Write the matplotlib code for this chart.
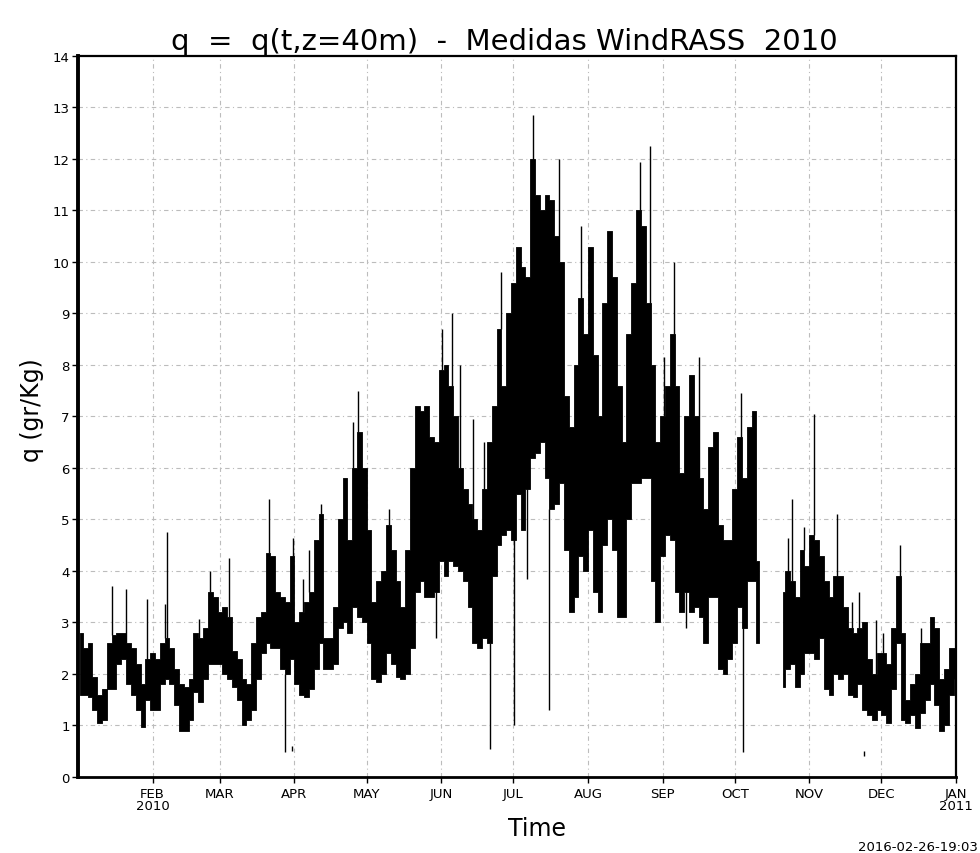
import numpy as np
import matplotlib
matplotlib.use('Agg')
import matplotlib.pyplot as plt

# q a 40m, envolvente leida cada 2 dias (minimo / maximo del bloque)
bin_day = np.arange(0, 366, 2)

q_low = [1.6, 1.6, 1.55, 1.3, 1.05, 1.1, 1.7, 1.7, 2.2, 2.3, 1.8, 1.6, 1.3, 0.97, 1.5, 1.3,
         1.3, 1.8, 1.9, 1.8, 1.4, 0.9, 0.9, 1.1, 1.65, 1.45, 1.9, 2.2, 2.2, 2.2, 2.0, 1.9,
         1.75, 1.5, 1.0, 1.1, 1.3, 1.9, 2.4, 2.6, 2.5, 2.5, 2.1, 2.0, 2.3, 1.8,
         1.6, 1.55, 1.7, 2.1, 2.6, 2.1, 2.1, 2.2, 2.9, 3.0, 2.8, 3.3, 3.1, 3.0, 2.6, 1.9,
         1.85, 2.0, 2.4, 2.2, 1.95, 1.9, 2.0, 2.5, 3.6, 3.8, 3.5, 3.5, 3.6, 4.2, 3.9, 4.2,
         4.1, 4.0, 3.8, 3.3, 2.6, 2.5, 2.7, 2.6, 3.9, 4.5, 4.7, 4.8,
         4.6, 5.5, 4.8, 5.6, 6.2, 6.3, 6.5, 5.8, 5.2, 5.3, 5.7, 4.4, 3.2, 3.5, 4.3, 4.0,
         4.8, 3.6, 3.2, 4.5, 5.0, 4.4, 3.1, 3.1, 5.0, 5.7, 5.7, 5.8, 5.8, 3.8, 3.0, 4.3,
         4.7, 4.6, 3.6, 3.2, 3.6, 3.2, 3.3, 3.1, 2.6, 3.5, 3.5, 2.1, 2.0, 2.3,
         2.6, 3.3, 2.9, 3.8, 3.8, 2.6, np.nan, np.nan, np.nan, np.nan, 1.75, 2.1, 2.2, 1.75,
         2.0, 2.4, 2.4, 2.3, 2.7, 1.7, 1.6, 2.0, 1.9, 2.0, 1.6, 1.55, 1.8, 1.3, 1.2, 1.1,
         1.3, 1.2, 1.05, 1.7, 2.6, 1.1, 1.05, 1.2, 0.95, 1.25, 1.5, 1.8, 1.4, 0.9, 1.0, 1.6,
         1.9]

q_high = [2.8, 2.5, 2.6, 1.95, 1.6, 1.7, 2.6, 2.75, 2.8, 2.8, 2.6, 2.5, 2.2, 1.8, 2.3, 2.4,
          2.3, 2.6, 2.7, 2.5, 2.1, 1.8, 1.75, 1.9, 2.8, 2.7, 2.9, 3.6, 3.5, 3.2, 3.3, 3.1,
          2.45, 2.3, 1.9, 1.8, 2.6, 3.1, 3.2, 4.35, 4.3, 3.6, 3.5, 3.4, 4.3, 3.0,
          3.2, 3.4, 3.6, 4.6, 5.1, 2.7, 2.7, 3.3, 5.0, 5.8, 4.6, 6.0, 6.7, 6.0, 4.8, 3.4,
          3.8, 4.0, 4.9, 4.4, 3.8, 3.3, 4.4, 6.0, 7.2, 7.1, 7.2, 6.6, 6.5, 7.9, 8.0, 7.6,
          7.0, 6.0, 5.6, 5.3, 5.0, 4.8, 5.6, 6.5, 7.2, 8.7, 7.6, 9.0,
          9.6, 10.3, 9.9, 9.7, 12.0, 11.3, 11.0, 11.3, 11.2, 10.5, 10.0, 7.4, 6.8, 8.0, 9.3, 8.6,
          10.3, 8.2, 7.0, 9.2, 10.6, 9.7, 7.6, 6.5, 8.6, 9.6, 11.0, 10.7, 9.2, 8.0, 6.5, 7.0,
          7.6, 8.6, 7.6, 5.9, 7.0, 7.8, 7.0, 5.8, 5.2, 6.4, 6.7, 4.9, 4.6, 4.6,
          5.6, 6.6, 5.8, 6.8, 7.1, 4.2, np.nan, np.nan, np.nan, np.nan, 3.6, 4.0, 3.8, 3.5,
          4.4, 4.1, 4.7, 4.6, 4.3, 3.8, 3.5, 3.9, 3.9, 3.3, 2.9, 2.8, 2.9, 3.0, 2.3, 2.0,
          2.4, 2.4, 2.2, 2.9, 3.9, 2.8, 1.5, 1.8, 2.0, 2.6, 2.6, 3.1, 2.9, 1.9, 2.1, 2.5,
          2.5]

# picos aislados (dia del anio, valor)
spike_day = [14.2, 20.0, 28.8, 36.0, 37.1, 50.1, 54.7, 62.9, 79.3, 89.4,
             93.6, 96.1, 100.9, 114.4, 116.3, 129.2, 151.2, 155.6, 158.8, 164.1, 168.8, 175.7,
             189.0, 200.1, 209.0, 233.7, 237.7, 243.7, 247.9, 258.0,
             275.8, 295.2, 296.9, 301.7, 305.8, 315.6, 321.6, 324.5, 331.6, 334.6, 341.7, 350.6]
spike_val = [3.7, 3.65, 3.45, 3.35, 4.75, 3.07, 4.0, 4.25, 5.4, 4.65,
             3.85, 4.4, 5.3, 6.9, 7.5, 5.2, 8.7, 9.0, 8.0, 6.95, 6.5, 9.8,
             12.85, 12.0, 10.7, 11.95, 12.25, 8.15, 10.0, 8.15,
             7.45, 4.65, 5.4, 4.85, 7.05, 5.1, 3.4, 3.6, 3.05, 2.8, 4.5, 2.9]
dip_day = [86.2, 148.7, 171.3, 181.3, 186.5, 196.0, 252.9, 276.3]
dip_val = [0.49, 2.7, 0.54, 1.0, 3.85, 1.3, 2.9, 0.48]
dot_day = [89.0, 326.7]
dot_val = [0.55, 0.45]

month_start = [31, 59, 90, 120, 151, 181, 212, 243, 273, 304, 334, 365]
month_lbl = ['FEB\n2010', 'MAR', 'APR', 'MAY', 'JUN', 'JUL', 'AUG', 'SEP', 'OCT',
             'NOV', 'DEC', 'JAN\n2011']

lo = np.array(q_low)
hi = np.array(q_high)
ctr = bin_day + 1

fig = plt.figure(figsize=(9.8, 8.54), dpi=100)
ax = fig.add_axes([0.0796, 0.089, 0.8959, 0.8443])

grid_ls = (0, (4, 3, 1, 3))
for m in month_start[:-1]:
    ax.axvline(m, color='#bcbcbc', lw=0.8, ls=grid_ls, zorder=0)
for v in range(1, 14):
    ax.axhline(v, color='#bcbcbc', lw=0.8, ls=grid_ls, zorder=0)

ok = ~np.isnan(lo)
ax.fill_between(ctr, lo, hi, where=ok, step='mid', color='black', lw=0.6,
                edgecolor='black', zorder=2)

base_up = [hi[int(d // 2)] for d in spike_day]
ax.vlines(spike_day, base_up, spike_val, color='black', lw=1.0, zorder=3)
base_dn = [lo[int(d // 2)] for d in dip_day]
ax.vlines(dip_day, dip_val, base_dn, color='black', lw=1.0, zorder=3)
ax.vlines(dot_day, np.array(dot_val) - 0.05, np.array(dot_val) + 0.05, color='black', lw=1.0)

ax.set_xlim(0, 365)
ax.set_ylim(0, 14)
ax.set_yticks(range(0, 15))
ax.set_xticks(month_start)
ax.set_xticklabels(month_lbl, fontsize=9.5, linespacing=0.95)
ax.tick_params(axis='y', labelsize=9.5, length=4, width=1, direction='out', pad=2)
ax.tick_params(axis='x', length=4, width=1, direction='out', pad=3)

for s in ['top', 'right']:
    ax.spines[s].set_linewidth(1.6)
ax.spines['left'].set_linewidth(2.8)
ax.spines['bottom'].set_linewidth(2.0)

fig.text(0.515, 0.9415, 'q  =  q(t,z=40m)  -  Medidas WindRASS  2010',
         ha='center', va='baseline', fontsize=21)
fig.text(0.033, 0.52, 'q (gr/Kg)', rotation=90, ha='center', va='center', fontsize=17)
fig.text(0.548, 0.021, 'Time', ha='center', va='baseline', fontsize=17)
fig.text(0.998, 0.004, '2016-02-26-19:03', ha='right', va='baseline', fontsize=9.5)

fig.savefig('out.png', dpi=100)
